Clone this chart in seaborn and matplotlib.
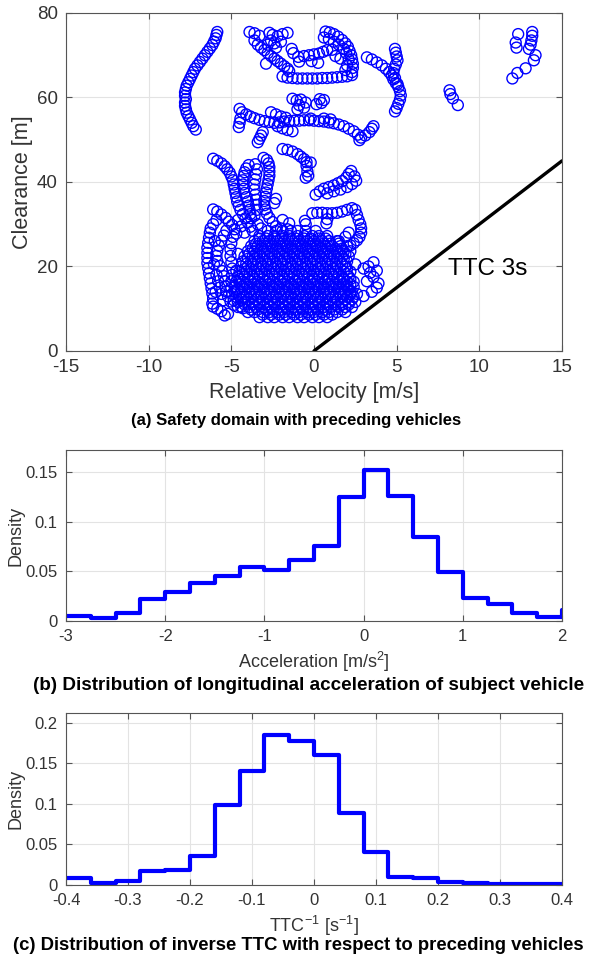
import numpy as np
import pandas as pd
import matplotlib
matplotlib.use("Agg")
import matplotlib.pyplot as plt
import seaborn as sns

# ---------------- data: (a) relative velocity [m/s] vs clearance [m] ----------------
pts_top = [
    (-5.85, 75.5), (-5.9, 74.8), (-5.95, 74.0), (-6.05, 73.2), (-6.15, 72.4), (-6.3, 71.6),
    (-6.45, 70.8), (-6.6, 70.0), (-6.75, 69.2), (-6.9, 68.4), (-7.05, 67.6), (-7.2, 66.8),
    (-7.3, 66.0), (-7.4, 65.2), (-7.5, 64.4), (-7.6, 63.6), (-7.7, 62.8), (-7.75, 62.0),
    (-7.8, 61.2), (-7.8, 60.4), (-7.75, 59.6), (-7.8, 58.8), (-7.8, 58.0), (-7.75, 57.2),
    (-7.7, 56.4), (-7.6, 55.6), (-7.5, 54.8), (-7.4, 54.0), (-7.3, 53.2), (-7.15, 52.4),
    (-3.9, 75.5), (-3.6, 75.2), (-3.3, 74.6), (-3.6, 73.5), (-3.4, 72.5), (-3.2, 71.8),
    (-3.0, 71.2), (-2.8, 70.5), (-2.6, 69.8), (-2.4, 69.2), (-2.2, 68.6), (-2.0, 68.0),
    (-1.8, 67.4), (-1.6, 66.8), (-1.5, 66.2), (-2.9, 68.0),
    (-2.7, 75.3), (-2.5, 74.8), (-2.2, 74.5), (-1.9, 75.0), (-1.6, 75.3), (-2.6, 73.5),
    (-2.4, 72.8), (-2.8, 72.5), (-2.0, 73.2), (-2.3, 71.8),
    (-1.9, 65.0), (-1.6, 64.7), (-1.3, 64.6), (-1.0, 64.5), (-0.7, 64.5), (-0.4, 64.5),
    (-0.1, 64.5), (0.2, 64.5), (0.5, 64.6), (0.8, 64.6), (1.1, 64.7), (1.4, 64.8),
    (1.7, 64.9), (2.0, 65.0), (2.3, 65.3),
    (0.7, 75.6), (0.95, 75.4), (1.2, 75.0), (1.45, 74.4), (1.7, 73.6), (1.9, 72.8),
    (2.05, 72.0), (2.15, 71.0), (2.25, 70.0), (2.3, 69.0), (2.35, 68.0), (2.35, 67.0),
    (2.3, 66.0), (0.6, 74.2), (0.9, 73.8), (1.2, 73.2), (1.5, 72.5), (1.8, 71.5),
    (1.95, 70.5), (2.1, 69.0), (1.6, 69.2), (1.9, 66.5), (2.0, 67.6),
    (-1.35, 71.5), (-1.25, 70.5), (-0.95, 69.6), (-0.6, 69.8), (-0.3, 70.0), (0.0, 70.2),
    (0.3, 70.4), (0.55, 70.8), (0.8, 71.2), (1.1, 71.3), (-0.15, 68.6), (0.25, 68.2),
    (1.3, 69.8), (-0.9, 68.5),
    (3.2, 69.5), (3.5, 69.0), (3.8, 68.3), (4.1, 67.6), (4.35, 66.8), (4.55, 66.0),
    (4.7, 65.2), (4.8, 64.3), (4.95, 63.4), (5.1, 62.5), (5.2, 61.5), (5.25, 60.5),
    (5.2, 59.5), (5.1, 58.5), (5.0, 57.5), (4.9, 56.7),
    (4.9, 71.5), (4.95, 70.6), (5.0, 69.7), (5.05, 68.8), (4.95, 67.8), (4.85, 66.8),
    (4.8, 65.8), (4.9, 64.6), (5.05, 63.2),
    (8.2, 61.7), (8.25, 60.8), (8.4, 59.8), (8.7, 58.2),
    (12.0, 64.5), (12.3, 65.8), (12.8, 66.9), (13.3, 68.8), (13.0, 71.5), (13.1, 72.5),
    (13.15, 73.5), (13.2, 74.6), (13.2, 75.5), (12.35, 75.0), (12.2, 73.0), (12.25, 71.8),
    (13.4, 70.0),
]

pts_mid = [
    (-4.5, 57.3), (-4.35, 56.5), (-4.1, 56.0), (-3.85, 55.5), (-3.6, 55.1), (-3.3, 54.7),
    (-3.0, 54.4), (-2.7, 54.2), (-2.4, 54.0), (-2.1, 54.1), (-1.8, 54.3), (-1.5, 54.4),
    (-1.2, 54.5), (-0.9, 54.5), (-0.6, 54.6), (-0.3, 54.6), (0.0, 54.5), (0.3, 54.4),
    (0.6, 54.3), (0.9, 54.1), (1.2, 53.9), (1.5, 53.6), (1.8, 53.2), (2.1, 52.6),
    (2.4, 52.0), (2.65, 51.2), (2.85, 50.5), (3.1, 51.0), (3.35, 51.8), (3.5, 52.6),
    (3.6, 53.2), (2.75, 49.9),
    (-2.6, 56.5), (-2.3, 56.0), (-2.0, 55.5), (-1.7, 55.2), (-0.2, 55.0), (0.6, 55.0),
    (1.0, 54.8), (-2.2, 53.2), (-1.9, 52.7), (-1.6, 52.3), (-1.3, 52.0),
    (-4.55, 53.0), (-4.5, 54.0), (-4.45, 55.0), (-3.4, 49.4), (-3.3, 50.2), (-3.2, 51.0),
    (-3.1, 51.8),
    (-1.3, 59.7), (-1.05, 59.3), (-0.8, 59.5), (-0.5, 58.8), (-0.9, 58.2), (-0.6, 57.6),
    (-1.0, 57.2), (0.15, 58.4), (0.45, 58.7), (0.6, 59.4), (0.35, 59.6),
    (-1.9, 47.8), (-1.6, 47.6), (-1.3, 47.2), (-1.0, 46.6), (-0.8, 46.0), (-0.6, 45.4),
    (-0.45, 44.7), (-0.2, 44.6), (-0.45, 43.8), (-0.4, 42.5), (-0.35, 41.5), (-0.5, 41.0),
    (0.1, 37.0), (0.35, 37.8), (0.6, 38.4), (0.9, 38.8), (1.2, 39.2), (1.45, 39.7),
    (1.7, 40.2), (1.95, 41.0), (2.1, 41.9), (2.25, 42.6), (2.45, 41.3), (2.55, 40.3),
    (2.3, 39.5), (2.0, 38.8), (1.6, 38.2), (1.2, 37.8), (0.8, 37.3),
    (-0.1, 32.6), (0.2, 32.7), (0.5, 32.7), (0.8, 32.6), (1.1, 32.6), (1.4, 32.7),
    (1.7, 33.0), (2.0, 33.4), (2.3, 33.8), (2.5, 33.4), (2.6, 32.2), (2.7, 31.0),
    (2.8, 30.0), (2.85, 29.0), (2.85, 28.0), (2.75, 27.0), (2.6, 26.2), (2.4, 25.5),
    (2.2, 25.0), (0.8, 31.2), (0.75, 30.2), (-0.5, 30.0), (-0.55, 30.8), (1.9, 27.0),
    (2.1, 28.0), (1.5, 26.0),
    (2.5, 20.5), (3.0, 19.5), (3.3, 20.0), (3.6, 21.0), (3.8, 19.0), (3.6, 17.5),
    (3.9, 16.0), (3.8, 15.0), (3.5, 14.0), (3.0, 13.0), (2.6, 13.5), (2.2, 14.0),
    (2.0, 15.5), (3.2, 16.5), (3.4, 18.5),
]

pts_left = [
    (-6.1, 45.5), (-5.85, 45.0), (-5.6, 44.4), (-5.4, 43.7), (-5.25, 43.0), (-5.1, 42.2),
    (-5.0, 41.3), (-4.9, 40.4), (-4.85, 39.4), (-4.8, 38.4), (-4.75, 37.4), (-4.7, 36.4),
    (-4.65, 35.4), (-4.55, 34.4), (-4.45, 33.4), (-4.3, 32.4), (-4.15, 31.4), (-4.0, 30.4),
    (-3.85, 29.4), (-3.7, 28.4),
    (-3.95, 44.0), (-4.1, 43.2), (-4.2, 42.3), (-4.25, 41.4), (-4.3, 40.4), (-4.3, 39.4),
    (-4.25, 38.4), (-4.2, 37.4), (-4.1, 36.4), (-4.0, 35.4), (-3.95, 34.4), (-3.9, 33.4),
    (-3.85, 32.4), (-3.8, 31.4),
    (-3.55, 44.2), (-3.45, 43.0), (-3.5, 41.8), (-3.55, 40.6), (-3.6, 39.4), (-3.6, 38.2),
    (-3.55, 37.0), (-3.5, 35.8), (-3.5, 34.6), (-3.45, 33.4),
    (-3.05, 45.7), (-2.85, 45.2), (-2.75, 44.4), (-2.7, 43.5), (-2.7, 42.5), (-2.7, 41.5),
    (-2.75, 40.5), (-2.8, 39.5), (-2.85, 38.5), (-2.9, 37.5), (-2.95, 36.5), (-3.0, 35.5),
    (-3.0, 34.5), (-2.95, 33.5), (-2.85, 32.5), (-2.7, 31.5), (-2.5, 30.5), (-2.3, 29.5),
    (-2.0, 29.0), (-1.6, 28.8), (-2.3, 36.0), (-2.4, 35.0), (-1.9, 31.0), (-1.5, 30.2),
    (-6.1, 33.5), (-5.85, 33.0), (-5.6, 32.3), (-5.35, 31.5), (-5.15, 30.6), (-4.95, 29.8),
    (-4.8, 28.8), (-4.7, 27.8), (-5.9, 31.0), (-6.1, 30.0), (-6.25, 29.0),
    (-6.3, 28.0), (-6.35, 26.8), (-6.4, 25.6), (-6.45, 24.4), (-6.45, 23.2), (-6.45, 22.0),
    (-6.45, 20.8), (-6.4, 19.6), (-6.35, 18.4), (-6.3, 17.2), (-6.25, 16.0), (-6.2, 14.8),
    (-6.15, 13.6), (-6.1, 12.4), (-6.15, 11.2), (-6.1, 10.5), (-5.85, 10.0), (-5.6, 9.4),
    (-5.4, 8.4), (-5.2, 8.8),
    (-5.3, 28.5), (-5.45, 27.3), (-5.6, 26.1), (-5.75, 24.9), (-5.85, 23.7), (-5.9, 22.5),
    (-5.85, 21.3), (-5.7, 20.1), (-5.55, 18.9), (-5.45, 17.7), (-5.4, 16.5), (-5.35, 15.3),
    (-5.3, 14.1), (-5.2, 12.9), (-5.05, 11.7), (-4.85, 10.9), (-4.6, 10.4), (-4.3, 10.1),
    (-5.9, 18.0), (-5.8, 16.5), (-5.7, 15.0), (-5.6, 13.5), (-5.5, 12.0),
    (-4.9, 27.0), (-5.0, 25.5), (-5.05, 24.0), (-5.05, 22.5), (-5.0, 21.0), (-4.95, 19.5),
    (-4.95, 18.0), (-5.0, 16.5), (-5.0, 15.0), (-4.95, 13.5), (-4.85, 12.0),
    (-6.0, 26.0), (-6.05, 20.5), (-5.95, 14.0), (-4.6, 31.0), (-4.4, 29.5), (-4.2, 28.0),
    (-3.4, 30.0), (-3.2, 29.0), (-3.6, 32.0), (-4.6, 23.0), (-4.7, 19.0), (-4.6, 14.5),
]

# dense core: clearance level -> relative velocities read along that row
blob_rows = {
    8.0: [-3.3, -2.8, -2.4, -1.9, -1.5, -1.0, -0.6, -0.1, 0.3, 0.8],
    8.6: [-3.1, -2.6, -2.1, -1.7, -1.2, -0.8, -0.3, 0.1, 0.6, 1.1],
    9.2: [-4.0, -3.6, -3.1, -2.7, -2.2, -1.8, -1.3, -0.9, -0.4, 0.0, 0.5, 0.9, 1.4, 1.9],
    9.8: [-3.8, -3.4, -2.9, -2.5, -2.0, -1.6, -1.1, -0.7, -0.2, 0.2, 0.7, 1.2, 1.7],
    10.4: [-4.4, -3.9, -3.5, -3.0, -2.6, -2.1, -1.7, -1.2, -0.8, -0.3, 0.1, 0.6, 1.0, 1.5, 1.9, 2.3],
    11.0: [-4.2, -3.7, -3.3, -2.8, -2.4, -1.9, -1.5, -1.0, -0.6, -0.1, 0.3, 0.8, 1.3, 1.7, 2.1],
    11.6: [-4.6, -4.2, -3.7, -3.3, -2.8, -2.4, -1.9, -1.5, -1.0, -0.6, -0.1, 0.3, 0.8, 1.2, 1.7, 2.1, 2.5],
    12.2: [-4.4, -4.0, -3.5, -3.1, -2.6, -2.2, -1.7, -1.3, -0.8, -0.4, 0.1, 0.5, 1.0, 1.4, 1.9, 2.3],
    12.8: [-4.7, -4.3, -3.8, -3.4, -2.9, -2.5, -2.0, -1.6, -1.1, -0.7, -0.2, 0.2, 0.7, 1.1, 1.6, 2.0, 2.4],
    13.4: [-4.5, -4.1, -3.6, -3.2, -2.7, -2.3, -1.8, -1.4, -0.9, -0.5, 0.0, 0.4, 0.9, 1.3, 1.8, 2.2],
    14.0: [-4.8, -4.4, -3.9, -3.5, -3.0, -2.6, -2.1, -1.7, -1.2, -0.8, -0.3, 0.1, 0.6, 1.0, 1.5, 1.9, 2.3],
    14.6: [-4.6, -4.2, -3.7, -3.3, -2.8, -2.4, -1.9, -1.5, -1.0, -0.6, -0.1, 0.3, 0.8, 1.2, 1.7, 2.1],
    15.2: [-4.8, -4.3, -3.9, -3.4, -3.0, -2.5, -2.1, -1.6, -1.2, -0.7, -0.3, 0.2, 0.6, 1.1, 1.5, 2.0, 2.4],
    15.8: [-4.5, -4.1, -3.6, -3.2, -2.7, -2.3, -1.8, -1.4, -0.9, -0.5, 0.0, 0.4, 0.9, 1.3, 1.8, 2.2],
    16.4: [-4.7, -4.3, -3.8, -3.4, -2.9, -2.5, -2.0, -1.6, -1.1, -0.7, -0.2, 0.2, 0.7, 1.1, 1.6, 2.0, 2.4],
    17.0: [-4.5, -4.0, -3.6, -3.1, -2.7, -2.2, -1.8, -1.3, -0.9, -0.4, 0.0, 0.5, 0.9, 1.4, 1.8, 2.2],
    17.6: [-4.6, -4.2, -3.7, -3.3, -2.8, -2.4, -1.9, -1.5, -1.0, -0.6, -0.1, 0.3, 0.8, 1.2, 1.7, 2.1],
    18.2: [-4.3, -3.9, -3.4, -3.0, -2.5, -2.1, -1.6, -1.2, -0.7, -0.3, 0.2, 0.6, 1.1, 1.5, 2.0],
    18.8: [-4.5, -4.1, -3.6, -3.2, -2.7, -2.3, -1.8, -1.4, -0.9, -0.5, 0.0, 0.4, 0.9, 1.3, 1.8, 2.2],
    19.4: [-4.2, -3.8, -3.3, -2.9, -2.4, -2.0, -1.5, -1.1, -0.6, -0.2, 0.3, 0.7, 1.2, 1.6, 2.0],
    20.0: [-4.4, -4.0, -3.5, -3.1, -2.6, -2.2, -1.7, -1.3, -0.8, -0.4, 0.1, 0.5, 1.0, 1.4, 1.9],
    20.6: [-4.1, -3.7, -3.2, -2.8, -2.3, -1.9, -1.4, -1.0, -0.5, -0.1, 0.4, 0.8, 1.3, 1.7],
    21.2: [-4.3, -3.8, -3.4, -2.9, -2.5, -2.0, -1.6, -1.1, -0.7, -0.2, 0.2, 0.7, 1.1, 1.6, 2.0],
    21.8: [-4.0, -3.6, -3.1, -2.7, -2.2, -1.8, -1.3, -0.9, -0.4, 0.0, 0.5, 0.9, 1.4, 1.8],
    22.4: [-4.2, -3.7, -3.3, -2.8, -2.4, -1.9, -1.5, -1.0, -0.6, -0.1, 0.3, 0.8, 1.2, 1.7, 2.1],
    23.0: [-3.9, -3.5, -3.0, -2.6, -2.1, -1.7, -1.2, -0.8, -0.3, 0.1, 0.6, 1.0, 1.5, 1.9],
    23.6: [-4.0, -3.6, -3.1, -2.7, -2.2, -1.8, -1.3, -0.9, -0.4, 0.0, 0.5, 0.9, 1.4, 1.8, 2.2],
    24.2: [-3.7, -3.2, -2.8, -2.3, -1.9, -1.4, -1.0, -0.5, -0.1, 0.4, 0.8, 1.3, 1.7],
    24.8: [-3.8, -3.4, -2.9, -2.5, -2.0, -1.6, -1.1, -0.7, -0.2, 0.2, 0.7, 1.1, 1.6, 2.0],
    25.4: [-3.5, -3.0, -2.6, -2.1, -1.7, -1.2, -0.8, -0.3, 0.1, 0.6, 1.0, 1.5],
    26.0: [-3.6, -3.1, -2.7, -2.2, -1.8, -1.3, -0.9, -0.4, 0.0, 0.5, 0.9, 1.4],
    26.6: [-3.3, -2.9, -2.4, -2.0, -1.5, -1.1, -0.6, -0.2, 0.3, 0.7],
    27.2: [-3.3, -2.8, -2.4, -1.9, -1.5, -1.0, -0.6, -0.1, 0.3, 0.8],
    28.4: [-2.8, -2.3, -1.9, -1.4, -1.0, -0.5, 0.1],
}

ttc_vel = [0, 15]
ttc_clear = [0, 45]

# ---------------- data: (b) acceleration histogram ----------------
acc_edges = [-3.0, -2.75, -2.5, -2.25, -2.0, -1.75, -1.5, -1.25, -1.0, -0.75, -0.5,
             -0.25, 0.0, 0.25, 0.5, 0.75, 1.0, 1.25, 1.5, 1.75, 2.0, 2.25]
acc_density = [0.005, 0.0035, 0.0085, 0.0225, 0.0295, 0.038, 0.045, 0.054, 0.051, 0.061,
               0.075, 0.125, 0.152, 0.126, 0.085, 0.049, 0.023, 0.017, 0.0085, 0.0045, 0.011]

# ---------------- data: (c) inverse TTC histogram ----------------
ittc_edges = [-0.40, -0.36, -0.32, -0.28, -0.24, -0.20, -0.16, -0.12, -0.08, -0.04, 0.0,
              0.04, 0.08, 0.12, 0.16, 0.20, 0.24, 0.28, 0.32, 0.36, 0.40]
ittc_density = [0.008, 0.003, 0.005, 0.017, 0.018, 0.0355, 0.099, 0.14, 0.185, 0.178,
                0.16, 0.089, 0.041, 0.010, 0.0085, 0.004, 0.002, 0.001, 0.001, 0.001]

# ---------------- frames ----------------
pts = pts_top + pts_mid + pts_left
for yy, xs in blob_rows.items():
    pts += [(xx, yy) for xx in xs]
scat = pd.DataFrame(pts, columns=["vel", "clear"])

acc_df = pd.DataFrame({
    "acc": [(a + b) / 2 for a, b in zip(acc_edges[:-1], acc_edges[1:])],
    "w": acc_density,
})
ittc_df = pd.DataFrame({
    "ittc": [(a + b) / 2 for a, b in zip(ittc_edges[:-1], ittc_edges[1:])],
    "w": ittc_density,
})

# ---------------- style ----------------
sns.set_theme(style="whitegrid")
plt.rcParams["font.family"] = ["Liberation Sans", "DejaVu Sans"]
plt.rcParams["mathtext.fontset"] = "custom"
plt.rcParams["mathtext.rm"] = "Liberation Sans"

AX_COL = "#555555"
TXT_COL = "#333333"
GRID_COL = "#e3e3e3"


def matlab_axes(ax, tick_size):
    ax.set_facecolor("white")
    ax.grid(True, color=GRID_COL, linewidth=0.8)
    for sp in ax.spines.values():
        sp.set_visible(True)
        sp.set_color(AX_COL)
        sp.set_linewidth(0.8)
    ax.tick_params(direction="in", length=4, width=0.8, colors=AX_COL,
                   labelcolor=TXT_COL, labelsize=tick_size,
                   top=True, right=True, bottom=True, left=True, pad=6)


fig = plt.figure(figsize=(5.93, 9.61), dpi=100)

# (a)
ax1 = fig.add_axes([0.1113, 0.6348, 0.8364, 0.3517])
sns.scatterplot(data=scat, x="vel", y="clear", ax=ax1, s=62, marker="o",
                facecolor="none", edgecolor="#0000ff", linewidth=1.0, legend=False)
sns.lineplot(x=ttc_vel, y=ttc_clear, ax=ax1, color="black", linewidth=2.4)
ax1.text(8.1, 19.5, "TTC 3s", fontsize=17.5, color="black", va="center", ha="left")
ax1.set_xlim(-15, 15)
ax1.set_ylim(0, 80)
ax1.set_xticks([-15, -10, -5, 0, 5, 10, 15])
ax1.set_xticklabels(["-15", "-10", "-5", "0", "5", "10", "15"])
ax1.set_yticks([0, 20, 40, 60, 80])
matlab_axes(ax1, 13.5)
ax1.set_xlabel("Relative Velocity [m/s]", fontsize=15.5, color=TXT_COL, labelpad=4)
ax1.set_ylabel("Clearance [m]", fontsize=15.5, color=TXT_COL, labelpad=3)

# (b)
ax2 = fig.add_axes([0.1113, 0.3538, 0.8364, 0.1779])
sns.histplot(data=acc_df, x="acc", weights="w", bins=acc_edges, element="step",
             fill=False, color="#0000ff", linewidth=3, ax=ax2)
ax2.set_xlim(-3, 2)
ax2.set_ylim(0, 0.172)
ax2.set_xticks([-3, -2, -1, 0, 1, 2])
ax2.set_xticklabels(["-3", "-2", "-1", "0", "1", "2"])
ax2.set_yticks([0, 0.05, 0.1, 0.15])
ax2.set_yticklabels(["0", "0.05", "0.1", "0.15"])
matlab_axes(ax2, 12)
ax2.set_xlabel("Acceleration [m/s$^2$]", fontsize=13, color=TXT_COL, labelpad=4)
ax2.set_ylabel("Density", fontsize=13, color=TXT_COL, labelpad=1)

# (c)
ax3 = fig.add_axes([0.1113, 0.0791, 0.8364, 0.179])
sns.histplot(data=ittc_df, x="ittc", weights="w", bins=ittc_edges, element="step",
             fill=False, color="#0000ff", linewidth=3, ax=ax3)
ax3.set_xlim(-0.4, 0.4)
ax3.set_ylim(0, 0.212)
ax3.set_xticks([-0.4, -0.3, -0.2, -0.1, 0, 0.1, 0.2, 0.3, 0.4])
ax3.set_xticklabels(["-0.4", "-0.3", "-0.2", "-0.1", "0", "0.1", "0.2", "0.3", "0.4"])
ax3.set_yticks([0, 0.05, 0.1, 0.15, 0.2])
ax3.set_yticklabels(["0", "0.05", "0.1", "0.15", "0.2"])
matlab_axes(ax3, 12)
ax3.set_xlabel("TTC$^{-1}$ [s$^{-1}$]", fontsize=13, color=TXT_COL, labelpad=4)
ax3.set_ylabel("Density", fontsize=13, color=TXT_COL, labelpad=1)

# captions
fig.text(0.5, 1 - 421 / 961, "(a) Safety domain with preceding vehicles",
         ha="center", va="center", fontsize=12, fontweight="bold", color="black")
fig.text(0.52, 1 - 686 / 961, "(b) Distribution of longitudinal acceleration of subject vehicle",
         ha="center", va="center", fontsize=13.6, fontweight="bold", color="black")
fig.text(0.503, 1 - 946 / 961, "(c) Distribution of inverse TTC with respect to preceding vehicles",
         ha="center", va="center", fontsize=13.3, fontweight="bold", color="black")

fig.savefig("out.png", dpi=100)
